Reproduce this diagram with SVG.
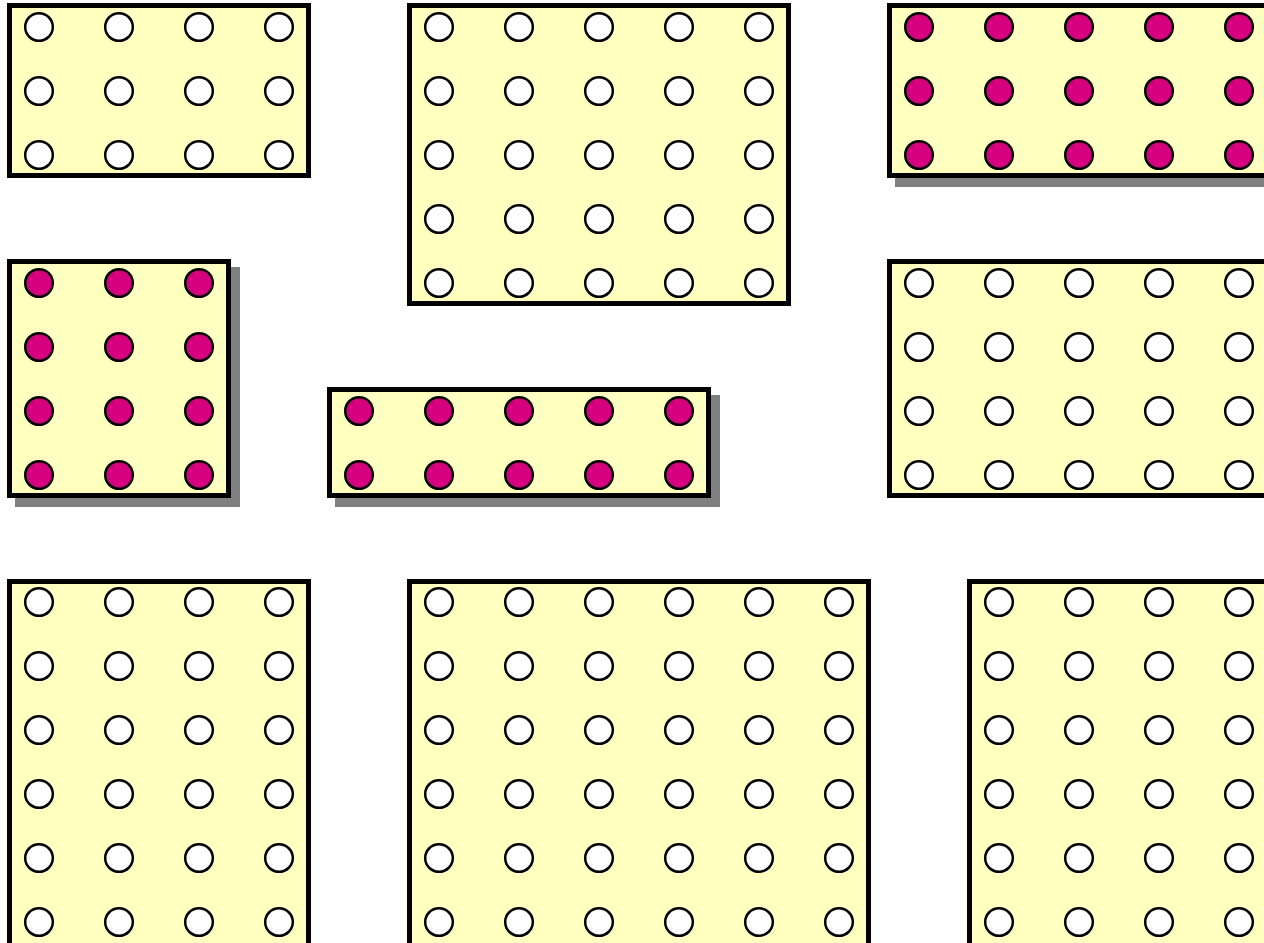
<svg xmlns="http://www.w3.org/2000/svg" width="1264" height="943" viewBox="0 0 1264 943">
<defs>
<style>
.box{fill:#FFFFC0;stroke:#000;stroke-width:5}
.sh{fill:#808080}
.w{fill:#fff;stroke:#000;stroke-width:2.5}
.m{fill:#D6007F;stroke:#000;stroke-width:2.5}
</style>
<circle id="cw" r="13.8" class="w"/>
<circle id="cm" r="13.8" class="m"/>
</defs>
<rect width="1264" height="943" fill="#fff"/>

<g id="box1">
<rect class="box" x="9.5" y="5.5" width="299" height="170"/>
<g>
<use href="#cw" x="39" y="27"/><use href="#cw" x="119" y="27"/><use href="#cw" x="199" y="27"/><use href="#cw" x="279" y="27"/>
<use href="#cw" x="39" y="91"/><use href="#cw" x="119" y="91"/><use href="#cw" x="199" y="91"/><use href="#cw" x="279" y="91"/>
<use href="#cw" x="39" y="155"/><use href="#cw" x="119" y="155"/><use href="#cw" x="199" y="155"/><use href="#cw" x="279" y="155"/>
</g>
</g>

<g id="box2">
<rect class="box" x="409.5" y="5.5" width="379" height="298"/>
<use href="#cw" x="439" y="27"/><use href="#cw" x="519" y="27"/><use href="#cw" x="599" y="27"/><use href="#cw" x="679" y="27"/><use href="#cw" x="759" y="27"/>
<use href="#cw" x="439" y="91"/><use href="#cw" x="519" y="91"/><use href="#cw" x="599" y="91"/><use href="#cw" x="679" y="91"/><use href="#cw" x="759" y="91"/>
<use href="#cw" x="439" y="155"/><use href="#cw" x="519" y="155"/><use href="#cw" x="599" y="155"/><use href="#cw" x="679" y="155"/><use href="#cw" x="759" y="155"/>
<use href="#cw" x="439" y="219"/><use href="#cw" x="519" y="219"/><use href="#cw" x="599" y="219"/><use href="#cw" x="679" y="219"/><use href="#cw" x="759" y="219"/>
<use href="#cw" x="439" y="283"/><use href="#cw" x="519" y="283"/><use href="#cw" x="599" y="283"/><use href="#cw" x="679" y="283"/><use href="#cw" x="759" y="283"/>
</g>

<g id="box3">
<rect class="sh" x="895" y="11" width="384" height="176"/>
<rect class="box" x="889.5" y="5.5" width="379" height="170"/>
<use href="#cm" x="919" y="27"/><use href="#cm" x="999" y="27"/><use href="#cm" x="1079" y="27"/><use href="#cm" x="1159" y="27"/><use href="#cm" x="1239" y="27"/>
<use href="#cm" x="919" y="91"/><use href="#cm" x="999" y="91"/><use href="#cm" x="1079" y="91"/><use href="#cm" x="1159" y="91"/><use href="#cm" x="1239" y="91"/>
<use href="#cm" x="919" y="155"/><use href="#cm" x="999" y="155"/><use href="#cm" x="1079" y="155"/><use href="#cm" x="1159" y="155"/><use href="#cm" x="1239" y="155"/>
</g>

<g id="box4">
<rect class="sh" x="15" y="267" width="225" height="240"/>
<rect class="box" x="9.5" y="261.5" width="219" height="234"/>
<use href="#cm" x="39" y="283"/><use href="#cm" x="119" y="283"/><use href="#cm" x="199" y="283"/>
<use href="#cm" x="39" y="347"/><use href="#cm" x="119" y="347"/><use href="#cm" x="199" y="347"/>
<use href="#cm" x="39" y="411"/><use href="#cm" x="119" y="411"/><use href="#cm" x="199" y="411"/>
<use href="#cm" x="39" y="475"/><use href="#cm" x="119" y="475"/><use href="#cm" x="199" y="475"/>
</g>

<g id="box5">
<rect class="sh" x="335" y="395" width="385" height="112"/>
<rect class="box" x="329.5" y="389.5" width="379" height="106"/>
<use href="#cm" x="359" y="411"/><use href="#cm" x="439" y="411"/><use href="#cm" x="519" y="411"/><use href="#cm" x="599" y="411"/><use href="#cm" x="679" y="411"/>
<use href="#cm" x="359" y="475"/><use href="#cm" x="439" y="475"/><use href="#cm" x="519" y="475"/><use href="#cm" x="599" y="475"/><use href="#cm" x="679" y="475"/>
</g>

<g id="box6">
<rect class="box" x="889.5" y="261.5" width="379" height="234"/>
<use href="#cw" x="919" y="283"/><use href="#cw" x="999" y="283"/><use href="#cw" x="1079" y="283"/><use href="#cw" x="1159" y="283"/><use href="#cw" x="1239" y="283"/>
<use href="#cw" x="919" y="347"/><use href="#cw" x="999" y="347"/><use href="#cw" x="1079" y="347"/><use href="#cw" x="1159" y="347"/><use href="#cw" x="1239" y="347"/>
<use href="#cw" x="919" y="411"/><use href="#cw" x="999" y="411"/><use href="#cw" x="1079" y="411"/><use href="#cw" x="1159" y="411"/><use href="#cw" x="1239" y="411"/>
<use href="#cw" x="919" y="475"/><use href="#cw" x="999" y="475"/><use href="#cw" x="1079" y="475"/><use href="#cw" x="1159" y="475"/><use href="#cw" x="1239" y="475"/>
</g>

<g id="box7">
<rect class="box" x="9.5" y="581.5" width="299" height="366"/>
<use href="#cw" x="39" y="602"/><use href="#cw" x="119" y="602"/><use href="#cw" x="199" y="602"/><use href="#cw" x="279" y="602"/>
<use href="#cw" x="39" y="666"/><use href="#cw" x="119" y="666"/><use href="#cw" x="199" y="666"/><use href="#cw" x="279" y="666"/>
<use href="#cw" x="39" y="730"/><use href="#cw" x="119" y="730"/><use href="#cw" x="199" y="730"/><use href="#cw" x="279" y="730"/>
<use href="#cw" x="39" y="794"/><use href="#cw" x="119" y="794"/><use href="#cw" x="199" y="794"/><use href="#cw" x="279" y="794"/>
<use href="#cw" x="39" y="858"/><use href="#cw" x="119" y="858"/><use href="#cw" x="199" y="858"/><use href="#cw" x="279" y="858"/>
<use href="#cw" x="39" y="922"/><use href="#cw" x="119" y="922"/><use href="#cw" x="199" y="922"/><use href="#cw" x="279" y="922"/>
</g>

<g id="box8">
<rect class="box" x="409.5" y="581.5" width="459" height="366"/>
<use href="#cw" x="439" y="602"/><use href="#cw" x="519" y="602"/><use href="#cw" x="599" y="602"/><use href="#cw" x="679" y="602"/><use href="#cw" x="759" y="602"/><use href="#cw" x="839" y="602"/>
<use href="#cw" x="439" y="666"/><use href="#cw" x="519" y="666"/><use href="#cw" x="599" y="666"/><use href="#cw" x="679" y="666"/><use href="#cw" x="759" y="666"/><use href="#cw" x="839" y="666"/>
<use href="#cw" x="439" y="730"/><use href="#cw" x="519" y="730"/><use href="#cw" x="599" y="730"/><use href="#cw" x="679" y="730"/><use href="#cw" x="759" y="730"/><use href="#cw" x="839" y="730"/>
<use href="#cw" x="439" y="794"/><use href="#cw" x="519" y="794"/><use href="#cw" x="599" y="794"/><use href="#cw" x="679" y="794"/><use href="#cw" x="759" y="794"/><use href="#cw" x="839" y="794"/>
<use href="#cw" x="439" y="858"/><use href="#cw" x="519" y="858"/><use href="#cw" x="599" y="858"/><use href="#cw" x="679" y="858"/><use href="#cw" x="759" y="858"/><use href="#cw" x="839" y="858"/>
<use href="#cw" x="439" y="922"/><use href="#cw" x="519" y="922"/><use href="#cw" x="599" y="922"/><use href="#cw" x="679" y="922"/><use href="#cw" x="759" y="922"/><use href="#cw" x="839" y="922"/>
</g>

<g id="box9">
<rect class="box" x="969.5" y="581.5" width="299" height="366"/>
<use href="#cw" x="999" y="602"/><use href="#cw" x="1079" y="602"/><use href="#cw" x="1159" y="602"/><use href="#cw" x="1239" y="602"/>
<use href="#cw" x="999" y="666"/><use href="#cw" x="1079" y="666"/><use href="#cw" x="1159" y="666"/><use href="#cw" x="1239" y="666"/>
<use href="#cw" x="999" y="730"/><use href="#cw" x="1079" y="730"/><use href="#cw" x="1159" y="730"/><use href="#cw" x="1239" y="730"/>
<use href="#cw" x="999" y="794"/><use href="#cw" x="1079" y="794"/><use href="#cw" x="1159" y="794"/><use href="#cw" x="1239" y="794"/>
<use href="#cw" x="999" y="858"/><use href="#cw" x="1079" y="858"/><use href="#cw" x="1159" y="858"/><use href="#cw" x="1239" y="858"/>
<use href="#cw" x="999" y="922"/><use href="#cw" x="1079" y="922"/><use href="#cw" x="1159" y="922"/><use href="#cw" x="1239" y="922"/>
</g>

<g id="connectors"/>
</svg>
